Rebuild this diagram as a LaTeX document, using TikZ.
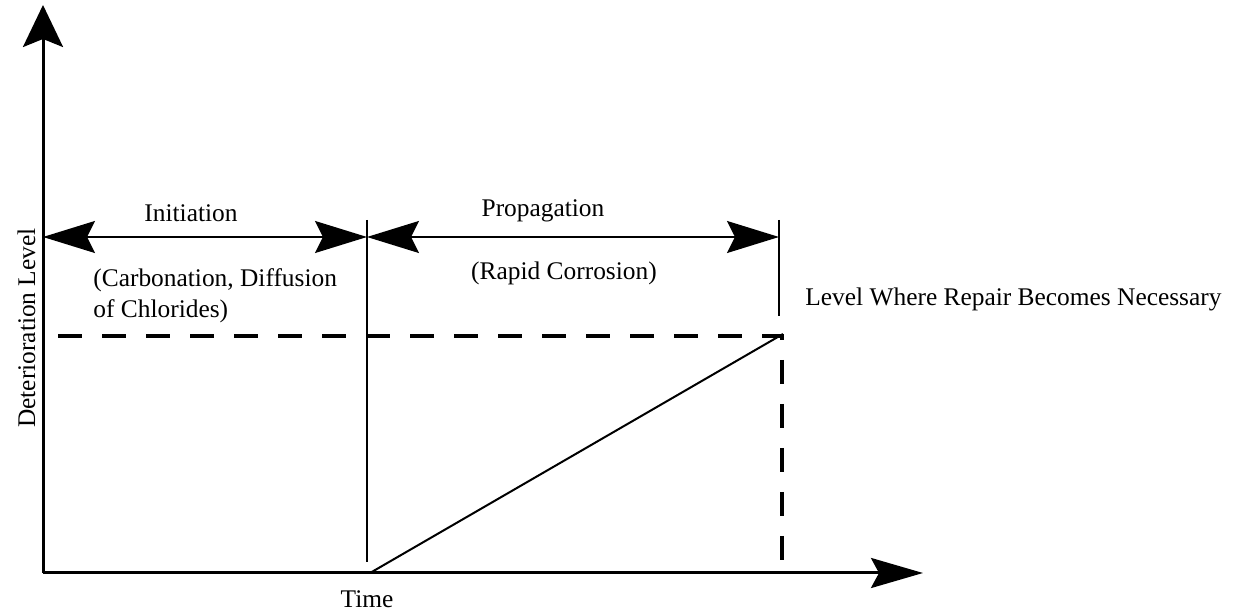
\documentclass[tikz,border=0pt]{standalone}
\usepackage{fontspec}
\setmainfont{Liberation Serif}
\usetikzlibrary{arrows.meta}

\begin{document}
\begin{tikzpicture}[x=0.5pt,y=-0.5pt]
    \tikzset{axis/.style = {draw, line width=1.5pt}}
    \tikzset{span/.style = {draw, line width=1pt, {Stealth[length=26pt,width=16pt,inset=4pt]}-{Stealth[length=26pt,width=16pt,inset=4pt]}}}
    \tikzset{limit/.style = {draw, line width=2pt, dash pattern=on 12pt off 10pt}}
    \tikzset{lbl/.style = {font=\fontsize{12.7}{15}\selectfont, inner sep=0pt}}
    \useasboundingbox (0,0) rectangle (1246,613);

    % points
    \coordinate (o) at (43,573);
    \coordinate (ytop) at (43,5);
    \coordinate (xend) at (923,573);
    \coordinate (ini) at (43,237);
    \coordinate (mid) at (367,237);
    \coordinate (fin) at (779,237);
    \coordinate (midtop) at (367,220);
    \coordinate (midbot) at (367,562);
    \coordinate (fintop) at (779,220);
    \coordinate (finbot) at (779,316);
    \coordinate (start) at (370,573);
    \coordinate (repair) at (783,334);
    \coordinate (lvlL) at (58,336);
    \coordinate (lvlR) at (782,336);
    \coordinate (lvlB) at (782,573);

    % labels
    \node[lbl, anchor=base] (initiation) at (191,222) {Initiation};
    \node[lbl, anchor=base] (propagation) at (543,217) {Propagation};
    \node[lbl, anchor=base west] (carb) at (93,287) {(Carbonation, Diffusion};
    \node[lbl, anchor=base west] (chlor) at (93,318) {of Chlorides)};
    \node[lbl, anchor=base] (rapid) at (564,280) {(Rapid Corrosion)};
    \node[lbl, anchor=base west] (level) at (805,306) {Level Where Repair Becomes Necessary};
    \node[lbl, anchor=base, rotate=90] (ylabel) at (35,328) {Deterioration Level};
    \node[lbl, anchor=base] (time) at (367,608) {Time};

    % axes
    \draw[axis, -{Stealth[length=21pt,width=20pt,inset=4pt]}] (o) -- (ytop);
    \draw[axis, -{Stealth[length=26pt,width=15pt,inset=4pt]}] (o) -- (xend);

    % spans
    \draw[span] (ini) -- (mid);
    \draw[span] (mid) -- (fin);
    \draw[line width=1pt] (midtop) -- (midbot);
    \draw[line width=1pt] (fintop) -- (finbot);

    % level and growth
    \draw[limit] (lvlL) -- (lvlR) -- (lvlB);
    \draw[line width=1pt] (start) -- (repair);
\end{tikzpicture}
\end{document}
